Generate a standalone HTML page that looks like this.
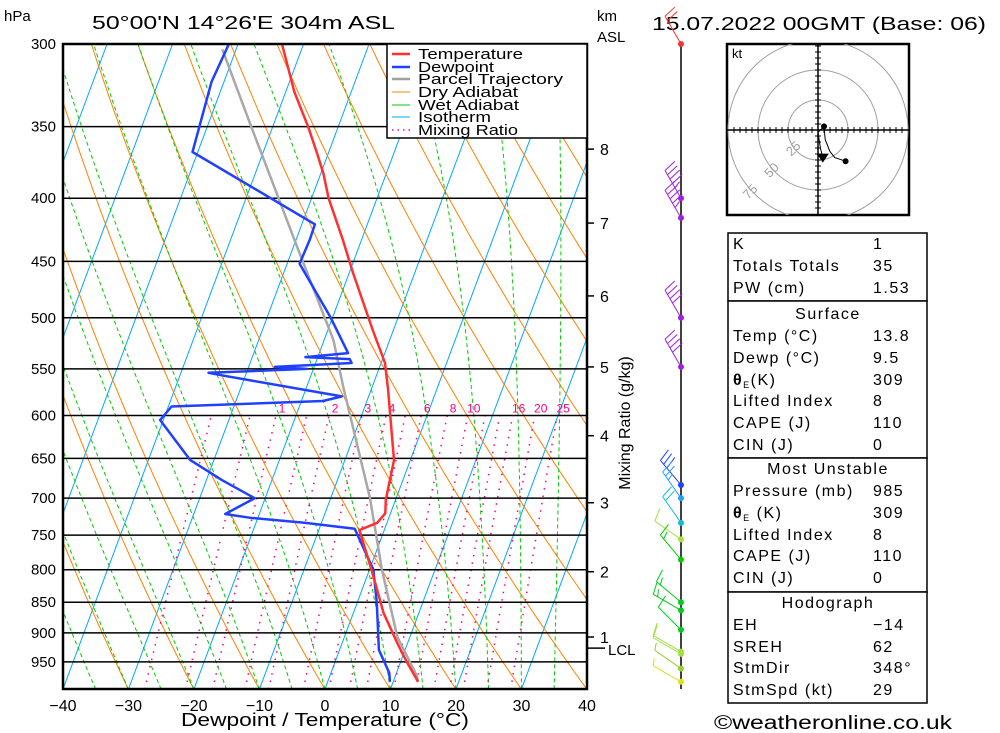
<!DOCTYPE html>
<html><head><meta charset="utf-8"><style>
html,body{margin:0;padding:0;background:#fff;}
svg{display:block;font-family:"Liberation Sans",sans-serif;}
</style></head><body>
<svg id="chart" width="1000" height="733" viewBox="0 0 1000 733" xmlns="http://www.w3.org/2000/svg">
<defs><clipPath id="plotclip"><rect x="63" y="44" width="524" height="645"/></clipPath>
<clipPath id="hodoclip"><rect x="727" y="44" width="182" height="171"/></clipPath></defs>
<rect width="1000" height="733" fill="#fff"/>
<text x="4" y="21" font-size="15">hPa</text>
<text x="92" y="29" font-size="18" textLength="303" lengthAdjust="spacingAndGlyphs">50°00'N 14°26'E 304m ASL</text>
<text x="597" y="21" font-size="15">km</text>
<text x="597" y="42" font-size="15">ASL</text>
<text x="652" y="30" font-size="18" textLength="334" lengthAdjust="spacingAndGlyphs">15.07.2022 00GMT (Base: 06)</text>
<g id="bg" clip-path="url(#plotclip)"></g>
<g id="isobars"></g>
<g id="series" clip-path="url(#plotclip)"></g>
<rect x="63" y="44" width="524" height="645" fill="none" stroke="#000" stroke-width="2.5"/>
<g id="legend">
<rect x="387" y="44" width="200" height="94" fill="#fff" stroke="#000" stroke-width="1.5"/>
<line x1="392" y1="54" x2="410" y2="54" stroke="#ff3030" stroke-width="2.5"/><text x="418" y="59" font-size="15" textLength="105" lengthAdjust="spacingAndGlyphs">Temperature</text>
<line x1="392" y1="67" x2="410" y2="67" stroke="#2040ff" stroke-width="2.5"/><text x="418" y="72" font-size="15" textLength="76" lengthAdjust="spacingAndGlyphs">Dewpoint</text>
<line x1="392" y1="79" x2="410" y2="79" stroke="#a0a0a0" stroke-width="2.5"/><text x="418" y="84" font-size="15" textLength="145" lengthAdjust="spacingAndGlyphs">Parcel Trajectory</text>
<line x1="392" y1="92" x2="410" y2="92" stroke="#ff8000" stroke-width="1"/><text x="418" y="97" font-size="15" textLength="100" lengthAdjust="spacingAndGlyphs">Dry Adiabat</text>
<line x1="392" y1="105" x2="410" y2="105" stroke="#00cc00" stroke-width="1"/><text x="418" y="110" font-size="15" textLength="101" lengthAdjust="spacingAndGlyphs">Wet Adiabat</text>
<line x1="392" y1="117" x2="410" y2="117" stroke="#00a8ff" stroke-width="1"/><text x="418" y="122" font-size="15" textLength="73" lengthAdjust="spacingAndGlyphs">Isotherm</text>
<line x1="392" y1="130" x2="410" y2="130" stroke="#ff0080" stroke-width="1.5" stroke-dasharray="1.5,4"/><text x="418" y="135" font-size="15" textLength="100" lengthAdjust="spacingAndGlyphs">Mixing Ratio</text>
</g>
<g id="xaxis"></g>
<text x="325" y="726" font-size="18" text-anchor="middle" textLength="288" lengthAdjust="spacingAndGlyphs">Dewpoint / Temperature (°C)</text>
<g id="kmaxis"></g>
<text transform="translate(630,423) rotate(-90)" font-size="16" text-anchor="middle">Mixing Ratio (g/kg)</text>
<line x1="681" y1="44" x2="681" y2="689" stroke="#000" stroke-width="1.5"/>
<g id="winds"></g>
<g id="hodo"></g>
<g id="table"></g>
<text x="714" y="729" font-size="19" textLength="238" lengthAdjust="spacingAndGlyphs">©weatheronline.co.uk</text>
</svg>
<script>
// ---- data ----
const tempP = [986,947,917,867,800,743,733,720,702,652,572,544,512,460,432,400,382,366,350,328,300];
const tempT = [13.8,10.7,8.4,4.6,0.3,-3.8,-1.5,-0.8,-1.5,-2.5,-7.4,-9.4,-13.1,-19.4,-22.9,-27.4,-29.6,-32.0,-34.6,-38.7,-43.3];
const dewP = [986,970,929,851,800,741,733,726,721,700,677,652,605,590,584,579,557,554,550,548,544,540,538,534,499,452,432,420,367,350,322,300];
const dewT = [9.5,8.9,6.0,3.0,0.6,-4.6,-12.6,-21.3,-25.2,-21.6,-27.6,-33.6,-40.5,-39.5,-16.7,-14.1,-33.3,-35.8,-21.0,-26.0,-14.5,-15.0,-21.9,-15.6,-20.4,-28.1,-27.9,-28.0,-50.8,-51.2,-51.9,-51.4];
const parcelP = [986,974,907,800,700,569,521,439,350,303];
const parcelT = [13.8,13.2,8.1,1.9,-4.0,-14.4,-18.6,-29.3,-43.3,-52.1];
const isobarLevels = [300,350,400,450,500,550,600,650,700,750,800,850,900,950];
const xTicks = [-40,-30,-20,-10,0,10,20,30,40];
const mixLabels = [1,2,3,4,6,8,10,16,20,25];
const mixExtra = [0.4,0.7,1.5,5,12,14];
const kmLabels = [1,2,3,4,5,6,7,8];
const kmPressures = [907,803,706,623,548,480,419,365];
const lclPressure = 926;
const windP = [300,400,415,500,548,683,700,733,756,785,850,863,895,932,936,962,986];
const windDir = [330,330,330,330,330,320,325,325,305,320,310,300,315,300,300,305,300];
const windSpd = [20,45,45,40,40,30,25,20,10,15,15,15,10,10,10,5,5];
const windCol = ['#ff3030','#a020e0','#a020e0','#a020e0','#a020e0','#2040ff','#20a0ff','#10c0d0','#a8e040','#00cc00','#00cc20','#00cc20','#00cc20','#a0e040','#a0e040','#90d030','#e0e020'];
const hodoU = [4,2,0,5,6,10,14,23];
const hodoV = [-23,-15,-2,3,-8,-18,-23,-26];
const tableRows = [
 ['K','1'],['Totals Totals','35'],['PW (cm)','1.53'],
 ['#Surface'],['Temp (°C)','13.8'],['Dewp (°C)','9.5'],['θ_E(K)','309'],['Lifted Index','8'],['CAPE (J)','110'],['CIN (J)','0'],
 ['#Most Unstable'],['Pressure (mb)','985'],['θ_E (K)','309'],['Lifted Index','8'],['CAPE (J)','110'],['CIN (J)','0'],
 ['#Hodograph'],['EH','\u221214'],['SREH','62'],['StmDir','348°'],['StmSpd (kt)','29']];

// ---- axes ----
const NS='http://www.w3.org/2000/svg';
function yP(p){return 44+536*Math.log(p/300);}
function xT(T,p){return 325+T*6.55+(689-yP(p))*0.373;}
function mk(tag,attrs,parent){const e=document.createElementNS(NS,tag);for(const k in attrs)e.setAttribute(k,attrs[k]);parent.appendChild(e);return e;}
const bg=document.getElementById('bg');
function pathFrom(pts){return 'M'+pts.map(q=>q[0].toFixed(1)+','+q[1].toFixed(1)).join('L');}

for(let T=-110;T<=40;T+=10){
  const e=mk('line',{x1:xT(T,1000),y1:yP(1000),x2:xT(T,300),y2:yP(300),stroke:'#00a8ff','stroke-width':1},bg);
  
  
}
for(let th=233.15;th<=493.15;th+=10){
  const pts=[];for(let p=1000;p>=300;p-=10){pts.push([xT(th*Math.pow(p/1000,0.2857)-273.15,p),yP(p)]);}
  const e=mk('path',{d:pathFrom(pts),fill:'none',stroke:'#ff8000','stroke-width':1},bg);
  
  
}
function es(Tc){return 6.112*Math.exp(17.67*Tc/(Tc+243.5));}
for(let tw=-40;tw<=40;tw+=5){
  let T=tw+273.15;const pts=[];
  for(let p=1000;p>=300;p-=5){
    pts.push([xT(T-273.15,p),yP(p)]);
    const e=es(T-273.15);const rs=0.622*e/(p-e);
    const dTdp=(287*T+2.5e6*rs)/(p*(1004+(2.5e6*2.5e6*rs*0.622)/(287*T*T)));
    T-=dTdp*5;
  }
  const e=mk('path',{d:pathFrom(pts),fill:'none',stroke:'#00cc00','stroke-width':1,'stroke-dasharray':'4,3'},bg);
  
  
}
function tdW(w,p){const e=w*p/(622+w);const l=Math.log(e/6.112);return 243.5*l/(17.67-l);}
mixLabels.concat(mixExtra).forEach(w=>{
  const pts=[];for(let p=1000;p>=600;p-=10)pts.push([xT(tdW(w,p),p),yP(p)]);
  const e=mk('path',{d:pathFrom(pts),fill:'none',stroke:'#ff0080','stroke-width':1.5,'stroke-dasharray':'1.5,6'},bg);
  
  
});
mixLabels.forEach(w=>{
  const t=mk('text',{x:xT(tdW(w,600),600)+6,y:yP(600)-3,'font-size':12,fill:'#ff0080','text-anchor':'middle'},bg);
  t.textContent=String(w);
  
  
});
const iso=document.getElementById('isobars');
isobarLevels.forEach(p=>{
  const e=mk('line',{x1:63,y1:yP(p),x2:587,y2:yP(p),stroke:'#000','stroke-width':1.5},iso);
  
  
  const t=mk('text',{x:56,y:yP(p)+5,'font-size':15,'text-anchor':'end'},iso);
  t.textContent=String(p);
  
  
});
const ser=document.getElementById('series');
function prof(P,T,col,name){
  const pts=P.map((p,i)=>[xT(T[i],p),yP(p)]);
  const e=mk('path',{d:pathFrom(pts),fill:'none',stroke:col,'stroke-width':2.5,'stroke-linejoin':'round'},ser);
  
  
}
prof(parcelP,parcelT,'#a8a8a8','parcel-trajectory');
prof(dewP,dewT,'#2040ff','dewpoint-line');
prof(tempP,tempT,'#ff3030','temperature-line');
const xa=document.getElementById('xaxis');
xTicks.forEach(T=>{
  const x=63+(T+40)*6.55;
  const t=mk('text',{x:x,y:711,'font-size':16,'text-anchor':'middle'},xa);
  t.textContent=(T<0?'\u2212':'')+Math.abs(T);
  
  
});
const ka=document.getElementById('kmaxis');
kmLabels.forEach((k,i)=>{
  const y=yP(kmPressures[i]);
  const e=mk('line',{x1:587,y1:y,x2:594,y2:y,stroke:'#000','stroke-width':1.5},ka);
  
  
  const t=mk('text',{x:600,y:y+6,'font-size':16},ka);
  t.textContent=String(k);
  
  
});
{const y=yP(lclPressure);const e=mk('line',{x1:587,y1:y,x2:605,y2:y,stroke:'#000','stroke-width':1.5},ka);


const t=mk('text',{x:608,y:y+7,'font-size':15},ka);t.textContent='LCL';

}
const wg=document.getElementById('winds');
windP.forEach((p,i)=>{
  const x0=681,y0=yP(p),d=windDir[i]*Math.PI/180,L=32;
  const sx=Math.sin(d),sy=-Math.cos(d);
  const x1=x0+sx*L,y1=y0+sy*L;
  const g=mk('g',{stroke:windCol[i],'stroke-width':1,fill:'none'},wg);
  
  
  mk('line',{x1:x0,y1:y0,x2:x1,y2:y1},g);
  const px=-sy,py=sx;let s=windSpd[i],k=0;
  while(s>=5){const full=s>=10;const len=full?13:7;
    const bx=x1-sx*k*5,by=y1-sy*k*5;
    mk('line',{x1:bx,y1:by,x2:bx+px*len+sx*3,y2:by+py*len+sy*3},g);
    s-=full?10:5;k++;}
  const c=mk('circle',{cx:x0,cy:y0,r:3,fill:windCol[i],stroke:'none'},wg);
  
  
});
const hg=document.getElementById('hodo');
const hx=818,hy=130,hs=1.2;
mk('rect',{x:727,y:44,width:182,height:171,fill:'#fff',stroke:'#000','stroke-width':2.5},hg);
const hc=mk('g',{'clip-path':'url(#hodoclip)'},hg);
[25,50,75].forEach(r=>{
  const c=mk('circle',{cx:hx,cy:hy,r:r*hs,fill:'none',stroke:'#a0a0a0','stroke-width':1},hc);
  
  
  const t=mk('text',{transform:`translate(${hx-r*hs*0.72},${hy+r*hs*0.72}) rotate(-45)`,'font-size':13,fill:'#a0a0a0','text-anchor':'middle'},hc);
  t.textContent=String(r);
  
  
});
mk('line',{x1:727,y1:hy,x2:909,y2:hy,stroke:'#000','stroke-width':1.5},hg);
mk('line',{x1:hx,y1:44,x2:hx,y2:215,stroke:'#000','stroke-width':1.5},hg);
for(let d=6;d<92;d+=6){
  [[hx+d,hy-3,hx+d,hy+3],[hx-d,hy-3,hx-d,hy+3],[hx-3,hy+d,hx+3,hy+d],[hx-3,hy-d,hx+3,hy-d]].forEach(a=>{
    if(a[0]>728&&a[0]<908&&a[1]>45&&a[3]<214)mk('line',{x1:a[0],y1:a[1],x2:a[2],y2:a[3],stroke:'#000','stroke-width':1},hg);});
}
{const t=mk('text',{x:732,y:58,'font-size':13},hg);t.textContent='kt';

}
const hpts=hodoU.map((u,i)=>[hx+u*hs,hy-hodoV[i]*hs]);
{const e=mk('path',{d:pathFrom(hpts),fill:'none',stroke:'#000','stroke-width':1},hg);

}
[[3],[7]].forEach(a=>{const q=hpts[a[0]];mk('circle',{cx:q[0],cy:q[1],r:3,fill:'#000'},hg);});
{const q=hpts[0];mk('path',{d:`M${q[0]-6},${q[1]-4}L${q[0]+6},${q[1]-4}L${q[0]},${q[1]+5}Z`,fill:'#000'},hg);}
const tg=document.getElementById('table');
const boxes=[[233,301],[301,458],[458,592],[592,703]];
boxes.forEach(b=>mk('rect',{x:728,y:b[0],width:199,height:b[1]-b[0],fill:'#fff',stroke:'#000','stroke-width':1.5},tg));
const rowY=[253,275,297, 323,345,367,389,410,432,454, 478,500,522,544,565,587, 612,634,656,677,699];
tableRows.forEach((r,i)=>{
  const y=rowY[i]-4;
  if(r[0][0]==='#'){
    const t=mk('text',{x:828,y:y,'font-size':16,'text-anchor':'middle','letter-spacing':1.5},tg);t.textContent=r[0].slice(1);
    
    
  }else{
    const t=mk('text',{x:733,y:y,'font-size':16,'letter-spacing':1.5},tg);
    if(r[0].indexOf('_')>=0){
      const parts=r[0].split('_');
      const a=mk('tspan',{'font-weight':'bold'},t);a.textContent=parts[0];
      const b=mk('tspan',{'font-size':9,dy:3},t);b.textContent=parts[1][0];
      const c=mk('tspan',{dy:-3},t);c.textContent=parts[1].slice(1);
    } else t.textContent=r[0];
    
    
    const v=mk('text',{x:873,y:y,'font-size':16,'letter-spacing':1.5},tg);v.textContent=r[1];
    
    
  }
});
</script>
</body></html>
